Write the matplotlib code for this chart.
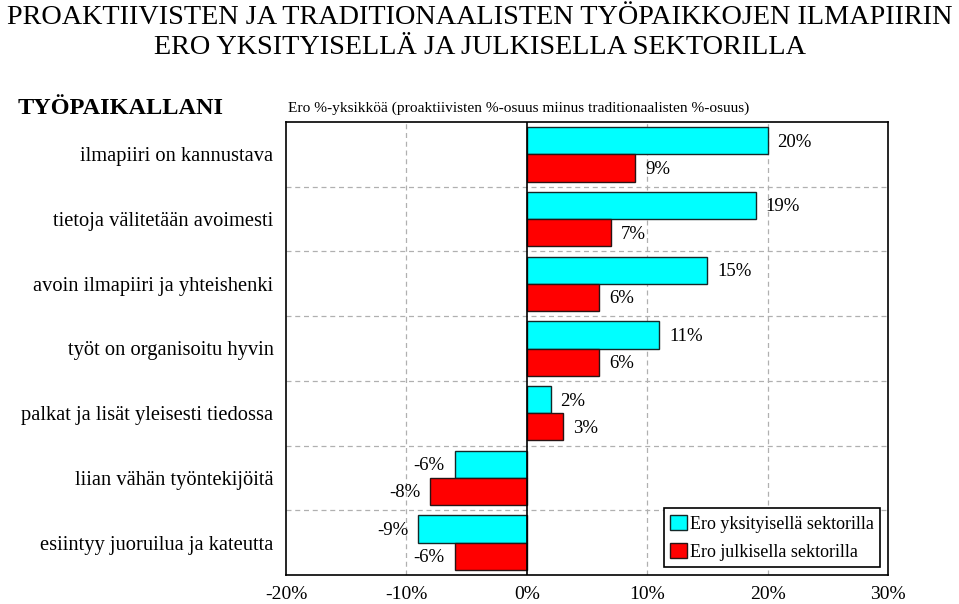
import numpy as np
import matplotlib
matplotlib.use("Agg")
import matplotlib.pyplot as plt

plt.rcParams['font.family'] = ['Liberation Serif', 'DejaVu Serif']

categories = [
    'ilmapiiri on kannustava',
    'tietoja välitetään avoimesti',
    'avoin ilmapiiri ja yhteishenki',
    'työt on organisoitu hyvin',
    'palkat ja lisät yleisesti tiedossa',
    'liian vähän työntekijöitä',
    'esiintyy juoruilua ja kateutta',
]
private_diff = [20, 19, 15, 11, 2, -6, -9]
public_diff = [9, 7, 6, 6, 3, -8, -6]
xticks = [-20, -10, 0, 10, 20, 30]

W, H = 959, 604
fig = plt.figure(figsize=(W / 100, H / 100), dpi=100)
ax = fig.add_axes([286 / W, 1 - 575 / H, (888 - 286) / W, (575 - 122) / H])

y = np.arange(len(categories))
h = 0.42
b1 = ax.barh(y - h / 2, private_diff, height=h, color='#00FFFF', edgecolor='#142828',
             linewidth=1, label='Ero yksityisellä sektorilla', zorder=3)
b2 = ax.barh(y + h / 2, public_diff, height=h, color='#FF0000', edgecolor='#281414',
             linewidth=1, label='Ero julkisella sektorilla', zorder=3)

for bars, vals in ((b1, private_diff), (b2, public_diff)):
    for bar, v in zip(bars, vals):
        yc = bar.get_y() + bar.get_height() / 2
        if v >= 0:
            ax.annotate(f'{v}%', (v, yc), xytext=(7, -1), textcoords='offset points',
                        ha='left', va='center', fontsize=13.5)
        else:
            ax.annotate(f'{v}%', (v, yc), xytext=(-7, -1), textcoords='offset points',
                        ha='right', va='center', fontsize=13.5)

ax.set_xlim(-20, 30)
ax.set_ylim(len(categories) - 0.5, -0.5)
ax.set_xticks(xticks)
ax.set_xticklabels([f'{t}%' for t in xticks], fontsize=14)
ax.set_yticks(y)
ax.set_yticklabels(categories, fontsize=14.8)
ax.set_yticks(y[:-1] + 0.5, minor=True)
ax.tick_params(axis='both', which='both', length=0)
ax.tick_params(axis='y', pad=9)
ax.tick_params(axis='x', pad=8)

for t in [-10, 10, 20]:
    ax.axvline(t, color='#b0b0b0', linestyle=(0, (4, 3)), linewidth=0.9, zorder=1)
ax.grid(axis='y', which='minor', color='#b0b0b0', linestyle=(0, (4, 3)), linewidth=0.9, zorder=1)
ax.axvline(0, color='black', linewidth=1.2, zorder=4)
for s in ax.spines.values():
    s.set_linewidth(1.2)

leg = ax.legend(loc='lower right', fontsize=13, frameon=True, fancybox=False,
                edgecolor='black', framealpha=1, handlelength=0.95, handleheight=0.95,
                handletextpad=0.15, borderaxespad=0.45, borderpad=0.35, labelspacing=0.55)
leg.get_frame().set_linewidth(1.2)

fig.text(0.5, 1 - 18 / H, 'PROAKTIIVISTEN JA TRADITIONAALISTEN TYÖPAIKKOJEN ILMAPIIRIN',
         ha='center', va='center', fontsize=20.3)
fig.text(0.5, 1 - 48 / H, 'ERO YKSITYISELLÄ JA JULKISELLA SEKTORILLA',
         ha='center', va='center', fontsize=20.3)
fig.text(18 / W, 1 - 108 / H, 'TYÖPAIKALLANI', ha='left', va='center',
         fontsize=17.5, fontweight='bold')
fig.text(288 / W, 1 - 108 / H,
         'Ero %-yksikköä (proaktiivisten %-osuus miinus traditionaalisten %-osuus)',
         ha='left', va='center', fontsize=11.1)

fig.savefig('out.png', dpi=100)
